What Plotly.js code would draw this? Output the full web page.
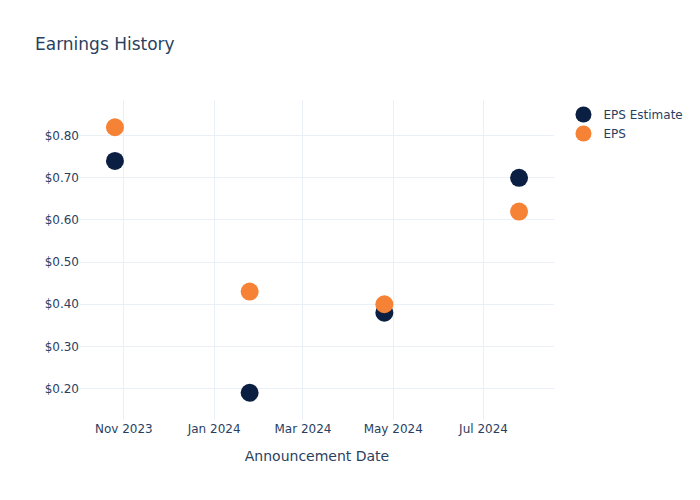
<!DOCTYPE html>
<html><head><meta charset="utf-8">
<script src="https://cdn.plot.ly/plotly-3.0.1.min.js"></script>
<style>html,body{margin:0;padding:0;}</style>
</head><body>
<div id="chart" style="width:700px;height:500px;"></div>
<script>
const dates = ["2023-10-26", "2024-01-25", "2024-04-25", "2024-07-25"];
const epsEstimate = [0.74, 0.19, 0.38, 0.70];
const epsActual = [0.82, 0.43, 0.40, 0.62];

const data = [
  {x: dates, y: epsEstimate, name: "EPS Estimate", type: "scatter", mode: "markers",
   marker: {color: "#0b1f42", size: 18}},
  {x: dates, y: epsActual, name: "EPS", type: "scatter", mode: "markers",
   marker: {color: "#f58235", size: 18}}
];
const layout = {
  template: "plotly_white",
  width: 700, height: 500,
  paper_bgcolor: "white", plot_bgcolor: "white",
  font: {family: "'DejaVu Sans', verdana, arial, sans-serif", color: "#2a3f5f"},
  title: {text: "Earnings History", x: 0.05, font: {size: 17}},
  xaxis: {title: {text: "Announcement Date", standoff: 16}, automargin: true, gridcolor: "#EBF0F8", zeroline: false, showline: false},
  yaxis: {tickprefix: "$", tickformat: ".2f", gridcolor: "#EBF0F8", zeroline: false, dtick: 0.1},
  legend: {x: 1.02, y: 1}
};
Plotly.newPlot("chart", data, layout, {displayModeBar: false});
</script>
</body></html>
